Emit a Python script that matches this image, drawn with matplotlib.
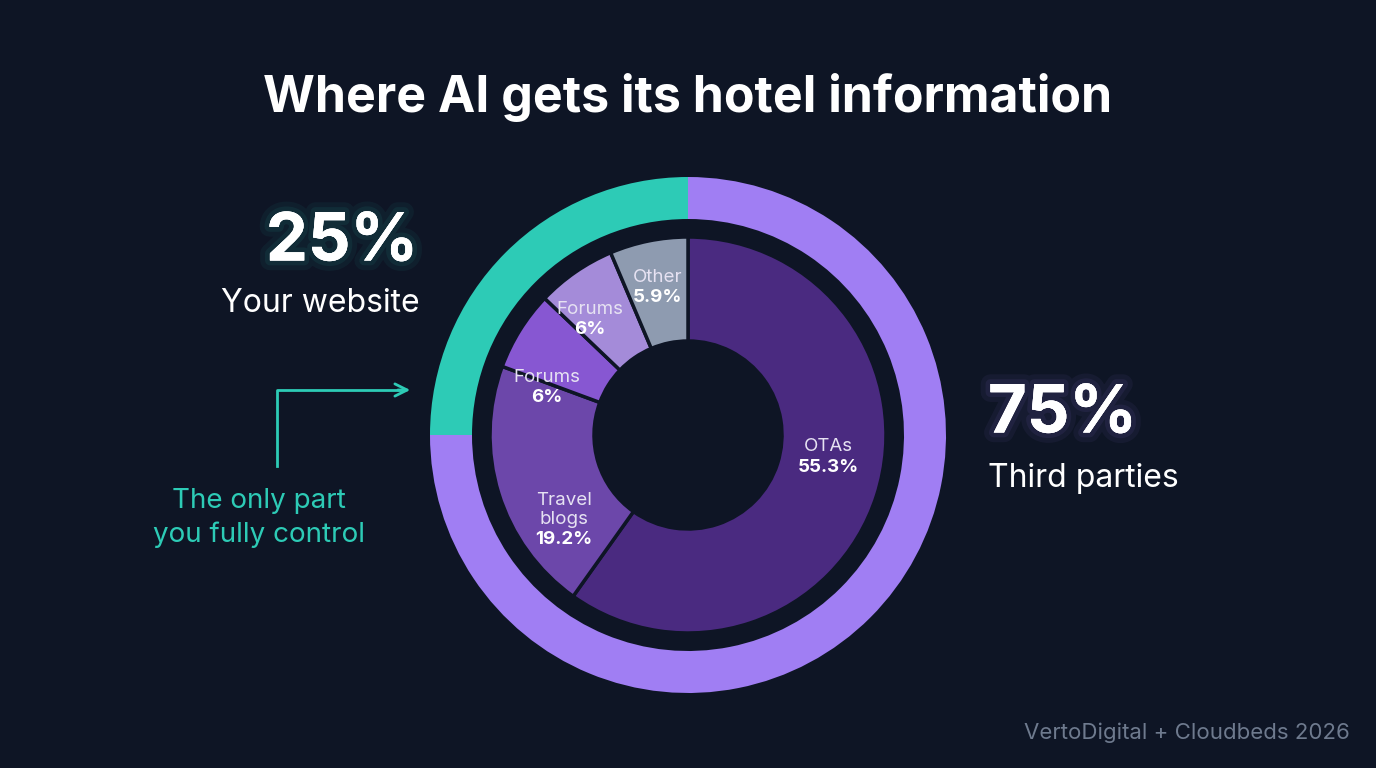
import matplotlib.pyplot as plt
import matplotlib.patheffects as pe

plt.rcParams["font.family"] = ["Inter", "DejaVu Sans"]

BG = "#0e1525"
TEAL = "#2dcbb6"
LAVENDER = "#a07ef3"

outer_labels = ["Your website", "Third parties"]
outer_values = [25, 75]

inner_labels = ["OTAs", "Travel\nblogs", "Forums", "Forums", "Other"]
inner_values = [55.3, 19.2, 6, 6, 5.9]
inner_pct = ["55.3%", "19.2%", "6%", "6%", "5.9%"]
inner_colors = ["#4a2a80", "#6c47aa", "#8757d2", "#a48bd9", "#8e9bb0"]

W, H = 1376, 768
cx, cy = 688, H - 435

fig = plt.figure(figsize=(W / 100, H / 100), dpi=100, facecolor=BG)
ax = fig.add_axes([0, 0, 1, 1])
ax.set_facecolor(BG)

# outer ring: 75% third parties clockwise from top, 25% website on the left
ax.pie(outer_values[::-1], colors=[LAVENDER, TEAL], startangle=90, counterclock=False,
       radius=258, center=(cx, cy), frame=True,
       wedgeprops=dict(width=42, edgecolor=BG, linewidth=0))

# inner donut breakdown of third parties
ax.pie(inner_values, colors=inner_colors, startangle=90, counterclock=False,
       radius=198, center=(cx, cy), frame=True,
       wedgeprops=dict(width=104, edgecolor=BG, linewidth=2.5))
ax.set_xlim(0, W)
ax.set_ylim(0, H)
ax.set_aspect("equal")
ax.axis("off")

# (x, y of the percentage line) per inner slice
label_pos = [(828, 467), (564, 540), (547, 398), (590, 330), (658, 298)]
for (x, y), name, pct in zip(label_pos, inner_labels, inner_pct):
    ax.text(x, H - y + 12, name, color="#e6e2f2", fontsize=13.5, ha="center", va="bottom",
            linespacing=1.15)
    ax.text(x, H - y, pct, color="white", fontsize=13.5, fontweight="bold",
            ha="center", va="center")

ax.text(688, H - 97, "Where AI gets its hotel information", color="white", fontsize=36,
        fontweight="bold", ha="center", va="center")

def glow(color):
    return [pe.withStroke(linewidth=14, foreground=color, alpha=0.06),
            pe.withStroke(linewidth=7, foreground=color, alpha=0.08), pe.Normal()]

ax.text(418, H - 243, "25%", color="white", fontsize=48, fontweight="bold",
        ha="right", va="center", path_effects=glow(TEAL))
ax.text(420, H - 304, "Your website", color="white", fontsize=23, ha="right", va="center")
ax.text(988, H - 415, "75%", color="white", fontsize=48, fontweight="bold",
        ha="left", va="center", path_effects=glow(LAVENDER))
ax.text(988, H - 478, "Third parties", color="white", fontsize=23, ha="left", va="center")

ax.plot([277, 277, 400], [H - 466, H - 390, H - 390], color=TEAL, lw=2)
ax.annotate("", xy=(413, H - 390), xytext=(395, H - 390),
            arrowprops=dict(arrowstyle="->", color=TEAL, lw=2, mutation_scale=22))
ax.text(259, H - 518, "The only part\nyou fully control", color=TEAL, fontsize=20,
        ha="center", va="center", linespacing=1.35)

ax.text(1350, H - 733, "VertoDigital + Cloudbeds 2026", color="#6e7a8e", fontsize=16,
        ha="right", va="center")

fig.savefig("out.png", dpi=100, facecolor=BG)
